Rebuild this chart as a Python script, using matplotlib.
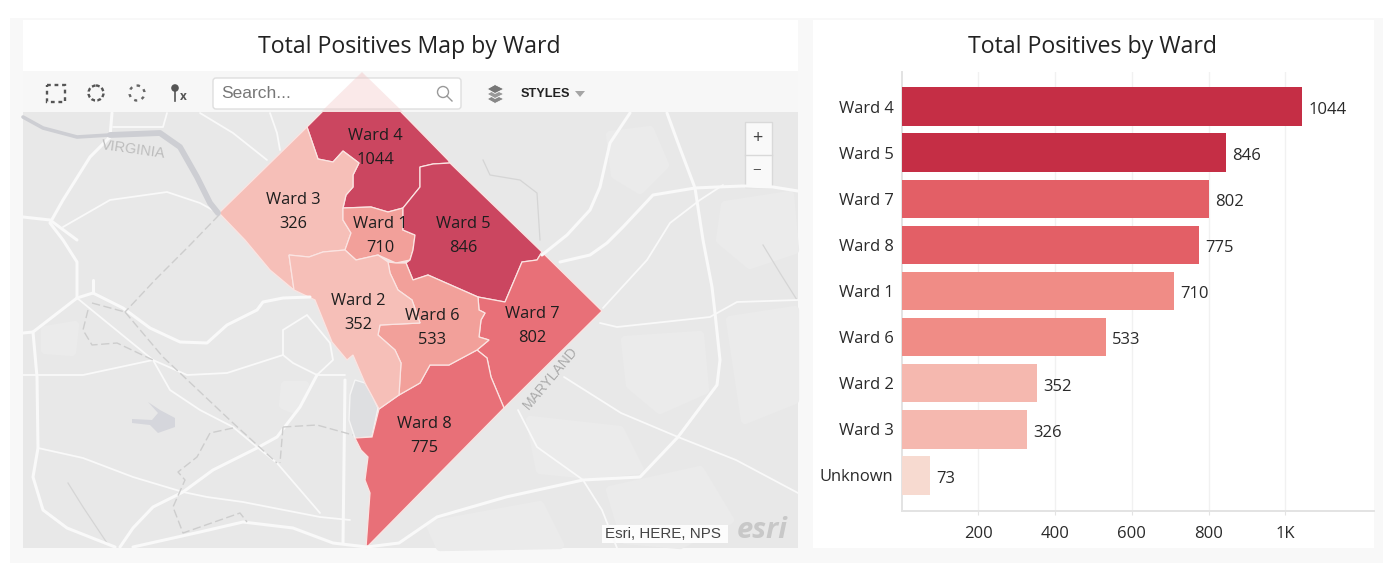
import matplotlib
matplotlib.use('Agg')
import matplotlib.pyplot as plt
from matplotlib.patches import Polygon, Rectangle, FancyBboxPatch, Circle

plt.rcParams['font.family'] = ['Open Sans', 'DejaVu Sans']

# bar chart data
wards = ['Ward 4', 'Ward 5', 'Ward 7', 'Ward 8', 'Ward 1', 'Ward 6', 'Ward 2', 'Ward 3', 'Unknown']
positives = [1044, 846, 802, 775, 710, 533, 352, 326, 73]
bar_colors = ['#C52E45', '#C52E45', '#E35F66', '#E35F66', '#F08C86', '#F08C86', '#F5B8AF', '#F5B8AF', '#F7DAD0']
x_ticks = [200, 400, 600, 800, 1000]
x_tick_labels = ['200', '400', '600', '800', '1K']

# map outlines in pixels
ward4 = [(362, 72), (448, 160), (450, 163), (433, 164), (420, 167), (420, 187), (403, 208), (388, 212), (371, 207),
         (343, 208), (346, 195), (353, 187), (353, 175), (359, 163), (343, 151), (333, 162), (318, 159), (307, 127)]
ward3 = [(307, 127), (219, 213), (245, 240), (270, 270), (294, 290), (289, 255), (309, 257), (323, 252), (345, 250),
         (351, 233), (343, 220), (343, 208), (346, 195), (353, 187), (353, 175), (359, 163), (343, 151), (333, 162), (318, 159)]
ward1 = [(343, 208), (371, 207), (388, 212), (403, 208), (403, 230), (415, 235), (413, 250), (410, 260), (396, 263),
         (378, 255), (356, 260), (345, 250), (351, 233), (343, 220)]
ward5 = [(420, 167), (433, 164), (450, 163), (542, 252), (537, 260), (522, 262), (505, 302), (478, 297), (428, 275),
         (413, 280), (406, 263), (410, 260), (413, 250), (415, 235), (403, 230), (403, 208), (420, 187)]
ward7 = [(542, 252), (602, 311), (504, 408), (491, 377), (487, 358), (477, 350), (489, 340), (479, 337), (481, 320),
         (485, 313), (479, 310), (478, 297), (505, 302), (522, 262), (537, 260)]
ward8 = [(366, 548), (370, 493), (365, 480), (368, 457), (361, 450), (355, 438), (372, 437), (379, 409), (399, 395),
         (420, 383), (430, 365), (449, 365), (477, 350), (487, 358), (491, 377), (504, 408)]
ward6 = [(388, 262), (396, 263), (406, 263), (413, 280), (428, 275), (478, 297), (479, 310), (485, 313), (481, 320),
         (479, 337), (489, 340), (477, 350), (449, 365), (430, 365), (420, 383), (399, 395), (401, 363), (395, 350),
         (378, 335), (380, 325), (420, 323), (412, 300), (398, 290), (390, 273)]
ward2 = [(289, 255), (309, 257), (323, 252), (345, 250), (356, 260), (378, 255), (388, 262), (390, 273), (398, 290),
         (412, 300), (420, 323), (380, 325), (378, 335), (395, 350), (401, 363), (399, 395), (379, 409), (365, 383),
         (353, 355), (347, 360), (332, 342), (315, 300), (294, 290)]
ward4_ghost = [(362, 72), (403, 112), (321, 112)]

map_wards = [ward4, ward3, ward1, ward5, ward7, ward8, ward6, ward2]
map_colors = ['#CB4660', '#F6BFB8', '#F2A09A', '#CB4660', '#E87078', '#E87078', '#F2A09A', '#F6BFB8']
map_names = ['Ward 4', 'Ward 3', 'Ward 1', 'Ward 5', 'Ward 7', 'Ward 8', 'Ward 6', 'Ward 2']
label_xy = [(375, 148), (293, 212), (380, 236), (463, 236), (532, 326), (424, 436), (432, 328), (358, 313)]

# base map
river_upper = [(23, 117), (43, 128), (77, 137), (110, 135)]
river_lower = [(110, 135), (160, 133), (180, 147), (197, 177), (210, 203), (218, 213)]
water = [(355, 380), (365, 383), (372, 395), (378, 408), (372, 437), (355, 438), (349, 420), (350, 395)]
lake = [(148, 402), (160, 410), (175, 418), (175, 427), (158, 433), (150, 425), (132, 423), (132, 419), (152, 420), (158, 413)]
light_patches = [
    [(725, 205), (790, 195), (795, 250), (750, 265), (720, 240)],
    [(610, 135), (650, 130), (665, 165), (640, 190), (615, 175)],
    [(625, 340), (700, 335), (705, 390), (660, 410), (630, 385)],
    [(530, 420), (620, 430), (640, 470), (590, 475), (540, 470)],
    [(610, 490), (700, 470), (730, 520), (680, 545), (625, 540)],
    [(730, 320), (795, 310), (795, 400), (745, 420)],
    [(430, 525), (540, 505), (560, 545), (440, 547)],
    [(45, 330), (75, 325), (72, 352), (45, 350)],
    [(285, 385), (305, 385), (295, 410), (283, 405)],
]

main_roads = [
    [(112, 113), (110, 137), (90, 157), (63, 200), (50, 223), (63, 240), (77, 262), (77, 298)],
    [(23, 217), (50, 220), (77, 240)],
    [(77, 298), (33, 332), (23, 333)],
    [(33, 332), (37, 377), (38, 448), (33, 477), (43, 510), (67, 528), (115, 547)],
    [(77, 298), (93, 293), (123, 308), (150, 328), (180, 342), (207, 343), (227, 325), (257, 310), (263, 302), (283, 298), (310, 297)],
    [(93, 280), (93, 293)],
    [(317, 375), (300, 407), (277, 437), (257, 448), (213, 470), (183, 492), (153, 507), (133, 528), (120, 547)],
    [(133, 547), (200, 532), (243, 522), (293, 528), (333, 543), (367, 547)],
    [(345, 380), (343, 543)],
    [(630, 113), (610, 143), (600, 187), (590, 210), (567, 235), (542, 255)],
    [(667, 113), (678, 143), (695, 188), (717, 187), (743, 186), (773, 187), (798, 191)],
    [(695, 188), (703, 240), (712, 287), (715, 313), (720, 360), (717, 385), (678, 437), (640, 477), (583, 480), (506, 497), (437, 517), (399, 543), (367, 547)],
    [(695, 188), (653, 195), (623, 227), (607, 243), (590, 255), (560, 262)],
]
minor_roads = [
    [(63, 227), (110, 200), (167, 192), (200, 203), (218, 213)],
    [(167, 113), (163, 127), (113, 127)],
    [(200, 113), (233, 133), (267, 160)],
    [(270, 113), (277, 133), (280, 150)],
    [(23, 375), (83, 375), (153, 360), (187, 375), (227, 373), (283, 355)],
    [(283, 355), (283, 330), (307, 315), (330, 343), (333, 360), (317, 375), (293, 363), (283, 355)],
    [(317, 375), (345, 375)],
    [(77, 298), (153, 360), (170, 390), (200, 410), (233, 427), (257, 447), (277, 463), (320, 513)],
    [(38, 448), (83, 458), (133, 477), (183, 492), (207, 497), (243, 502), (320, 517), (350, 520)],
    [(723, 185), (700, 200), (670, 223), (647, 260), (603, 308)],
    [(600, 323), (617, 327), (710, 317), (737, 302), (798, 300)],
    [(518, 410), (537, 447), (579, 477), (583, 480), (602, 510), (617, 548)],
    [(564, 377), (621, 413), (678, 437), (736, 460), (798, 493)],
]
county_lines = [
    [(219, 215), (190, 245), (155, 280), (125, 312)],
    [(125, 312), (163, 357), (233, 423), (277, 463)],
    [(92, 303), (125, 312)],
    [(88, 310), (83, 330), (92, 345), (117, 343), (153, 360)],
    [(233, 428), (210, 433), (197, 457), (178, 472), (185, 480), (173, 507), (183, 533), (240, 513), (247, 522)],
    [(283, 427), (317, 425), (353, 435)],
    [(283, 427), (280, 463)],
]
streams = [
    [(68, 483), (83, 507), (107, 543)],
    [(763, 245), (780, 273), (797, 300)],
    [(483, 160), (490, 175), (520, 180), (537, 193), (540, 240)],
]

fig = plt.figure(figsize=(14, 5.79), dpi=100, facecolor='white')

# whole page drawn in picture pixels, map included
ax = fig.add_axes([0, 0, 1, 1])
ax.set_xlim(0, 1400)
ax.set_ylim(579, 0)
ax.axis('off')

ax.add_patch(Rectangle((10, 18), 1373, 545, fc='#F8F8F8', ec='none'))
ax.add_patch(Rectangle((23, 20), 775, 528, fc='white', ec='none'))
ax.add_patch(Rectangle((813, 20), 561, 528, fc='white', ec='none'))
map_clip = Rectangle((23, 71), 775, 477, transform=ax.transData)
ax.add_patch(Rectangle((23, 71), 775, 477, fc='#E8E8E8', ec='none'))
for blob in light_patches:
    ax.add_patch(Polygon(blob, fc='#EBEBEB', ec='#EBEBEB', lw=6, joinstyle='round'))

for road in streams:
    xs, ys = zip(*road)
    ax.plot(xs, ys, color='#D5D5D5', lw=0.9)
for road in main_roads:
    xs, ys = zip(*road)
    ln, = ax.plot(xs, ys, color='#F9F9F9', lw=2.2, solid_capstyle='round', solid_joinstyle='round')
    ln.set_clip_path(map_clip)
for road in minor_roads:
    xs, ys = zip(*road)
    ln, = ax.plot(xs, ys, color='#F9F9F9', lw=1.3, solid_capstyle='round', solid_joinstyle='round')
    ln.set_clip_path(map_clip)
for road in county_lines:
    xs, ys = zip(*road)
    ln, = ax.plot(xs, ys, color='#CDCDCD', lw=1.0, ls=(0, (6, 2.5)))
    ln.set_clip_path(map_clip)
xs, ys = zip(*river_upper)
ax.plot(xs, ys, color='#CDCED3', lw=2.6, solid_capstyle='round')
xs, ys = zip(*river_lower)
ax.plot(xs, ys, color='#CDCED3', lw=4.2, solid_capstyle='round')
ax.add_patch(Polygon(water, fc='#DEDFE1', ec='#F5F5F5', lw=1))
ax.add_patch(Polygon(lake, fc='#D5D6DC', ec='none'))

for shape, col in zip(map_wards, map_colors):
    ax.add_patch(Polygon(shape, closed=True, fc=col, ec='#FBE4E2', lw=0.9))

ax.text(133, 150, 'VIRGINIA', fontsize=10.5, family='Liberation Sans', color='#BDBDBD', rotation=-8, ha='center', va='center')
ax.text(550, 378, 'MARYLAND', fontsize=10, family='Liberation Sans', color='#ABABAB', rotation=50, ha='center', va='center', rotation_mode='anchor')

for name, (lx, ly) in zip(map_names, label_xy):
    val = positives[wards.index(name)]
    ax.text(lx, ly - 12, name, fontsize=11.8, color='#1E1E1E', ha='center', va='center')
    ax.text(lx, ly + 12, str(val), fontsize=11.8, color='#1E1E1E', ha='center', va='center')

# toolbar over the map
ax.add_patch(Rectangle((23, 71), 775, 41, fc='#F8F8F8', ec='none', alpha=0.95))
ax.add_patch(Rectangle((46.5, 85), 18, 17, fc='none', ec='#555555', lw=1.7, ls=(0, (1.6, 1.6))))
ax.add_patch(Circle((96, 93), 7.5, fc='none', ec='#555555', lw=1.7, ls=(0, (1.6, 1.0))))
ax.add_patch(Circle((137, 93), 7.5, fc='none', ec='#666666', lw=1.7, ls=(0, (1.3, 2.0))))
ax.add_patch(Circle((175, 88), 3.8, fc='#555555', ec='none'))
ax.plot([175, 175], [91, 101], color='#555555', lw=1.2)
ax.text(183, 97, 'x', fontsize=8.5, fontweight='bold', color='#555555', ha='center', va='center')
ax.add_patch(FancyBboxPatch((213, 78), 248, 31, boxstyle='round,pad=0,rounding_size=3', fc='white', ec='#DEDEDE', lw=1))
ax.text(221, 94, 'Search...', fontsize=12.5, family='Liberation Sans', color='#777777', ha='left', va='center')
ax.add_patch(Polygon(ward4_ghost, fc='#F3C9C9', ec='none', alpha=0.4))
ax.add_patch(Circle((443, 92), 5.5, fc='none', ec='#999999', lw=1))
ax.plot([447, 452], [96, 101], color='#999999', lw=1)
for ly, shade in zip([99, 94, 89], ['#888888', '#999999', '#777777']):
    ax.add_patch(Polygon([(487, ly), (495, ly - 4.5), (504, ly), (495, ly + 4.5)], fc=shade, ec='white', lw=0.6))
ax.text(521, 94, 'STYLES', fontsize=9.2, family='Liberation Sans', fontweight='bold', color='#222222', ha='left', va='center')
ax.add_patch(Polygon([(575, 91), (585, 91), (580, 97)], fc='#A5A5A5', ec='none'))

# zoom buttons
ax.add_patch(Rectangle((745, 122), 27, 65, fc='#F9F9F9', ec='#D9D9D9', lw=1))
ax.plot([745, 772], [155, 155], color='#D9D9D9', lw=1)
ax.text(757, 138, '+', fontsize=13, color='#444444', ha='center', va='center')
ax.text(757, 171, '\u2212', fontsize=11, color='#555555', ha='center', va='center')

# attribution
ax.add_patch(Rectangle((602, 525), 126, 18, fc='white', ec='none', alpha=0.9))
ax.text(605, 534, 'Esri, HERE, NPS', fontsize=10.9, family='Liberation Sans', color='#444444', ha='left', va='center')
ax.text(762, 530, 'esri', fontsize=21, fontweight='bold', style='italic', color='#C8C8C8', ha='center', va='center')

fig.text(409.5 / 1400, 1 - 47 / 579, 'Total Positives Map by Ward', fontsize=16.7, color='#222222', ha='center', va='center')
fig.text(1092 / 1400, 1 - 47 / 579, 'Total Positives by Ward', fontsize=16.7, color='#222222', ha='center', va='center')

# bar chart
left, right, top, bottom = 901.5, 1374, 71.5, 510.5
bx = fig.add_axes([left / 1400, 1 - bottom / 579, (right - left) / 1400, (bottom - top) / 579])
bx.patch.set_alpha(0)
y_pos = list(range(len(wards)))
bx.barh(y_pos, positives, height=0.835, color=bar_colors, zorder=3)
for i, v in enumerate(positives):
    bx.annotate(str(v), (v, i), xytext=(4.5, -2.4), textcoords='offset points', fontsize=12, color='#2A2A2A', ha='left', va='center')
bx.set_xlim(0, 1231)
bx.set_ylim(8.76, -0.76)
bx.set_yticks(y_pos)
bx.set_yticklabels(wards, fontsize=11.9, color='#2A2A2A')
bx.set_xticks(x_ticks)
bx.set_xticklabels(x_tick_labels, fontsize=12, color='#2A2A2A')
bx.tick_params(axis='y', length=0, pad=5.8)
bx.tick_params(axis='x', length=3, color='#E3E3E3', pad=8)
bx.grid(axis='x', color='#F1F1F1', lw=1, zorder=0)
for side in ['top', 'right']:
    bx.spines[side].set_visible(False)
for side in ['left', 'bottom']:
    bx.spines[side].set_color('#E3E3E3')
    bx.spines[side].set_linewidth(1.4)

fig.savefig('out.png', dpi=100, facecolor=fig.get_facecolor())
